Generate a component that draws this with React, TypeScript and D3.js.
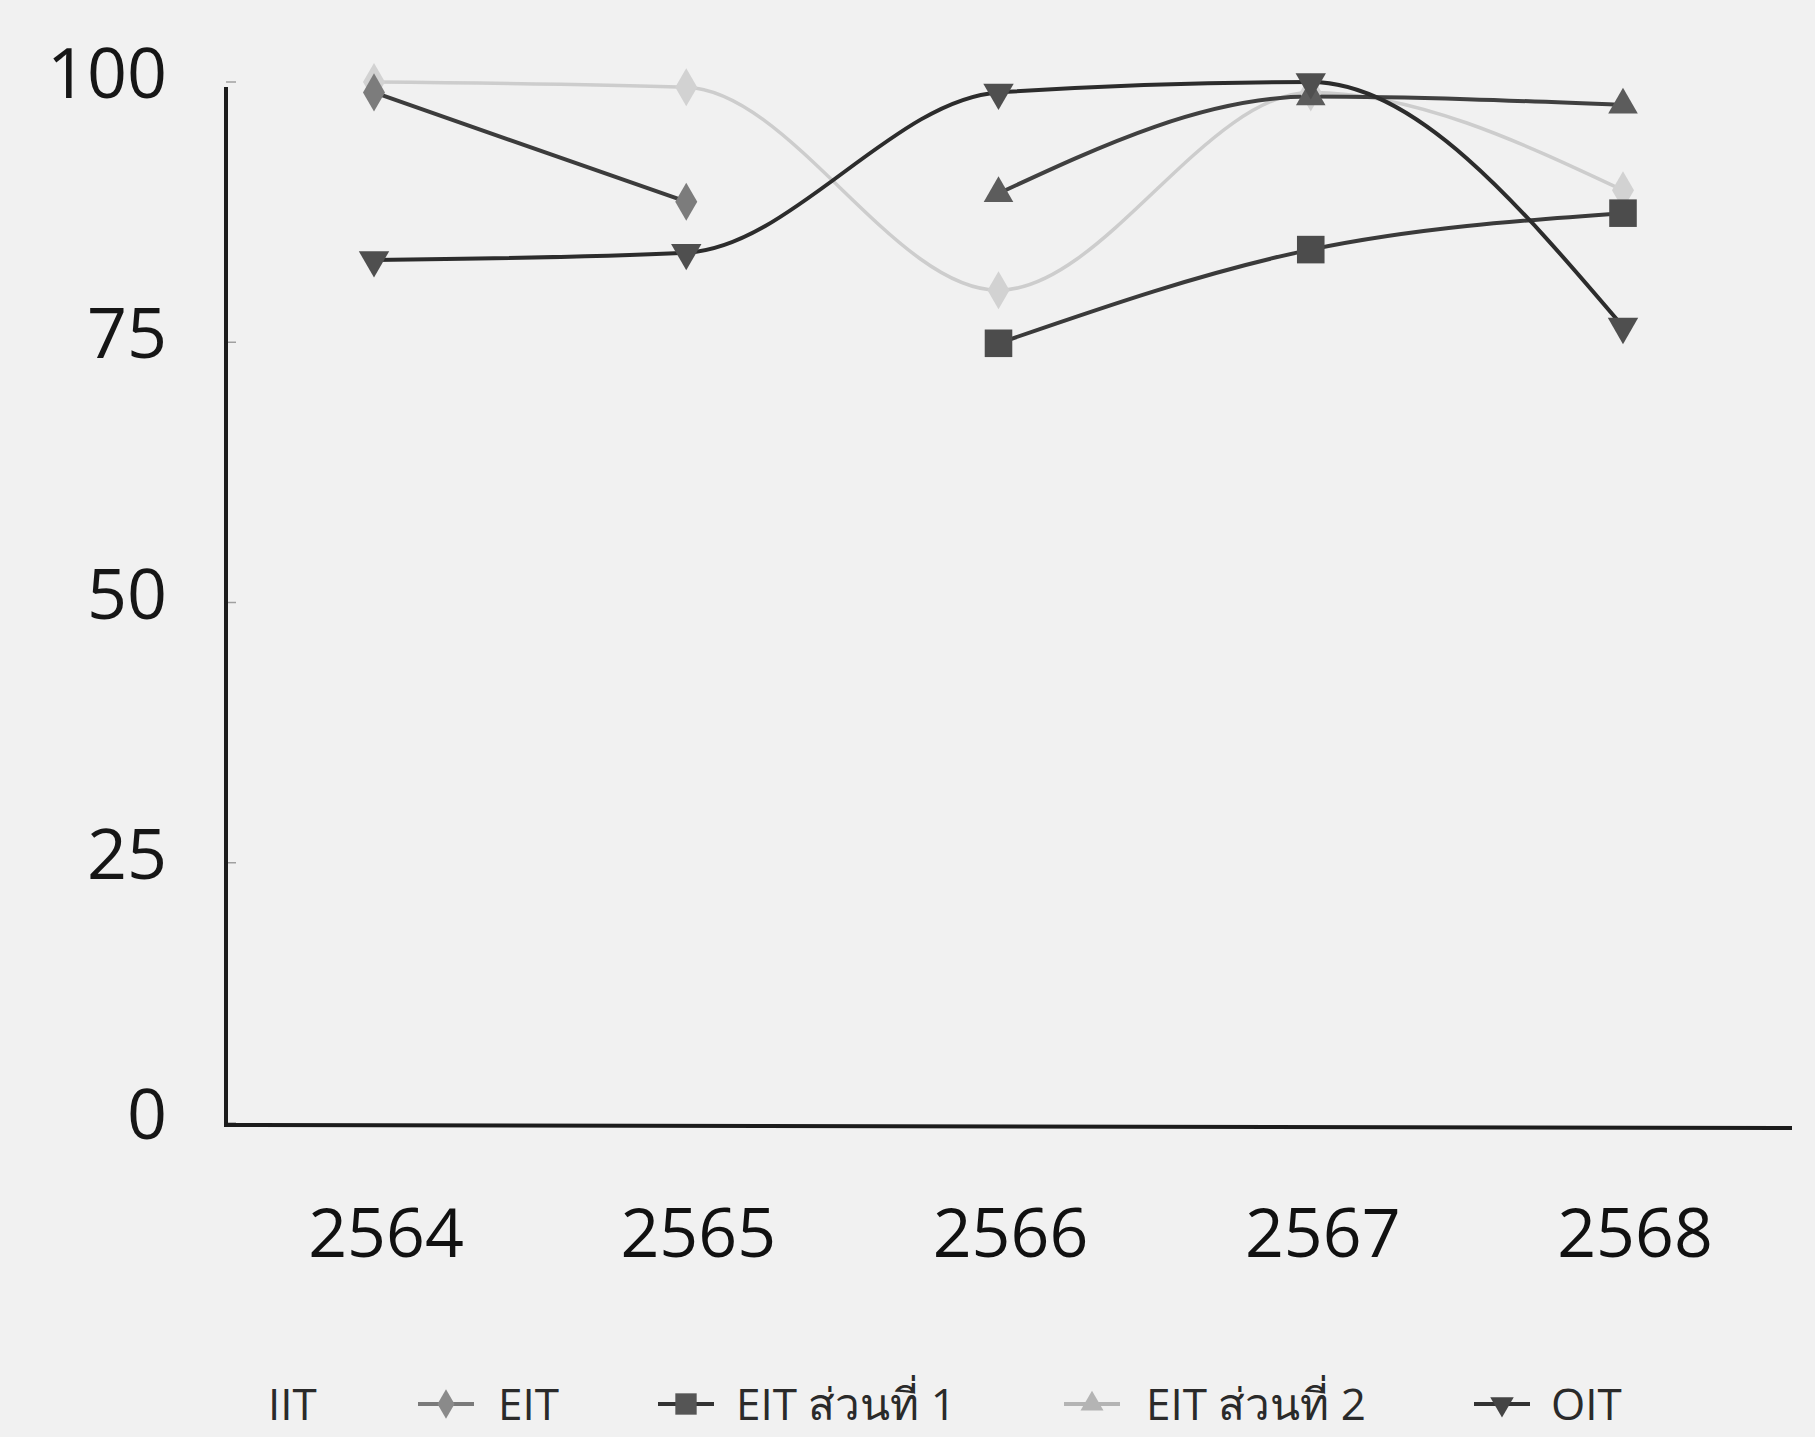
import React from "react";
import * as d3 from "d3";

const years = ["2564", "2565", "2566", "2567", "2568"];
const iit: (number | null)[] = [100, 99.5, 80, 99, 89.6];
const eit: (number | null)[] = [99, 88.5, null, null, null];
const eit1: (number | null)[] = [null, null, 74.9, 83.9, 87.4];
const eit2: (number | null)[] = [null, null, 89.3, 98.6, 97.8];
const oit: (number | null)[] = [82.9, 83.6, 99, 100, 76.5];
const yTicks = [0, 25, 50, 75, 100];
const legendLabels = ["IIT", "EIT", "EIT ส่วนที่ 1", "EIT ส่วนที่ 2", "OIT"];

const W = 1815;
const H = 1437;

type Series = {
  name: string;
  values: (number | null)[];
  line: string;
  lw: number;
  marker: string;
  legendMarker: string;
  legendLine: string;
  symbol: d3.SymbolType;
  size: number;
  rotate: number;
  showLegendSwatch: boolean;
};

const series: Series[] = [
  { name: legendLabels[0], values: iit, line: "#cdcdcd", lw: 3.5, marker: "#d2d2d2", legendMarker: "#d2d2d2", legendLine: "#d2d2d2", symbol: d3.symbolDiamond, size: 420, rotate: 0, showLegendSwatch: false },
  { name: legendLabels[1], values: eit, line: "#3c3c3c", lw: 4, marker: "#7c7c7c", legendMarker: "#8a8a8a", legendLine: "#7a7a7a", symbol: d3.symbolDiamond, size: 420, rotate: 0, showLegendSwatch: true },
  { name: legendLabels[2], values: eit1, line: "#3a3a3a", lw: 4, marker: "#4c4c4c", legendMarker: "#555555", legendLine: "#333333", symbol: d3.symbolSquare, size: 760, rotate: 0, showLegendSwatch: true },
  { name: legendLabels[3], values: eit2, line: "#404040", lw: 4, marker: "#5c5c5c", legendMarker: "#b4b4b4", legendLine: "#b4b4b4", symbol: d3.symbolTriangle, size: 380, rotate: 0, showLegendSwatch: true },
  { name: legendLabels[4], values: oit, line: "#2c2c2c", lw: 4, marker: "#4f4f4f", legendMarker: "#444444", legendLine: "#333333", symbol: d3.symbolTriangle, size: 400, rotate: 180, showLegendSwatch: true },
];

const legendPos = [
  { sw: 0, tx: 268 },
  { sw: 446, tx: 498 },
  { sw: 686, tx: 736 },
  { sw: 1092, tx: 1146 },
  { sw: 1502, tx: 1551 },
];

export default function App() {
  const x = d3.scalePoint<string>().domain(years).range([374, 1623]);
  const y = d3.scaleLinear().domain([0, 100]).range([1123, 82]);
  const font = "'Open Sans', 'Noto Sans', sans-serif";

  const lineGen = d3
    .line<number | null>()
    .defined((d) => d !== null)
    .x((_, i) => x(years[i]) as number)
    .y((d) => y(d as number))
    .curve(d3.curveMonotoneX);

  return (
    <div style={{ position: "absolute", left: 0, top: 0 }}>
      <svg width={W} height={H} viewBox={`0 0 ${W} ${H}`} style={{ display: "block" }}>
        <rect x={0} y={0} width={W} height={H} fill="#f1f1f1" />
        {yTicks.map((t) => (
          <g key={t}>
            <line x1={226} x2={236} y1={y(t)} y2={y(t)} stroke="#a0a0a0" strokeWidth={1.5} />
            <text
              x={167}
              y={y(t) - 9}
              dy="0.36em"
              textAnchor="end"
              fontFamily={font}
              fontSize={70}
              fill="#161616"
            >
              {t}
            </text>
          </g>
        ))}
        <line x1={226} x2={226} y1={87} y2={1127} stroke="#1c1c1c" strokeWidth={4} />
        <line x1={224} x2={1792} y1={1125} y2={1128} stroke="#1c1c1c" strokeWidth={4} />
        {years.map((yr) => (
          <text
            key={yr}
            x={(x(yr) as number) + 12}
            y={1257}
            textAnchor="middle"
            fontFamily={font}
            fontSize={68}
            fill="#111111"
          >
            {yr}
          </text>
        ))}
        {series.map((s) => (
          <path
            key={s.name}
            d={lineGen(s.values) || ""}
            fill="none"
            stroke={s.line}
            strokeWidth={s.lw}
            strokeLinejoin="round"
            strokeLinecap="round"
          />
        ))}
        {series.map((s) =>
          s.values.map((v, i) =>
            v === null ? null : (
              <path
                key={s.name + i}
                d={d3.symbol().type(s.symbol).size(s.size)() || ""}
                transform={`translate(${x(years[i])},${y(v)}) rotate(${s.rotate})`}
                fill={s.marker}
              />
            )
          )
        )}
        {series.map((s, i) => (
          <g key={"lg" + s.name}>
            {s.showLegendSwatch && (
              <g>
                <line
                  x1={legendPos[i].sw - 28}
                  x2={legendPos[i].sw + 28}
                  y1={1404}
                  y2={1404}
                  stroke={s.legendLine}
                  strokeWidth={4}
                />
                <path
                  d={d3.symbol().type(s.symbol).size(s.size * 0.6)() || ""}
                  transform={`translate(${legendPos[i].sw},1404) rotate(${s.rotate})`}
                  fill={s.legendMarker}
                />
              </g>
            )}
            <text x={legendPos[i].tx} y={1420} fontFamily={font} fontSize={44} fill="#2a2a2a">
              {s.name}
            </text>
          </g>
        ))}
      </svg>
    </div>
  );
}
